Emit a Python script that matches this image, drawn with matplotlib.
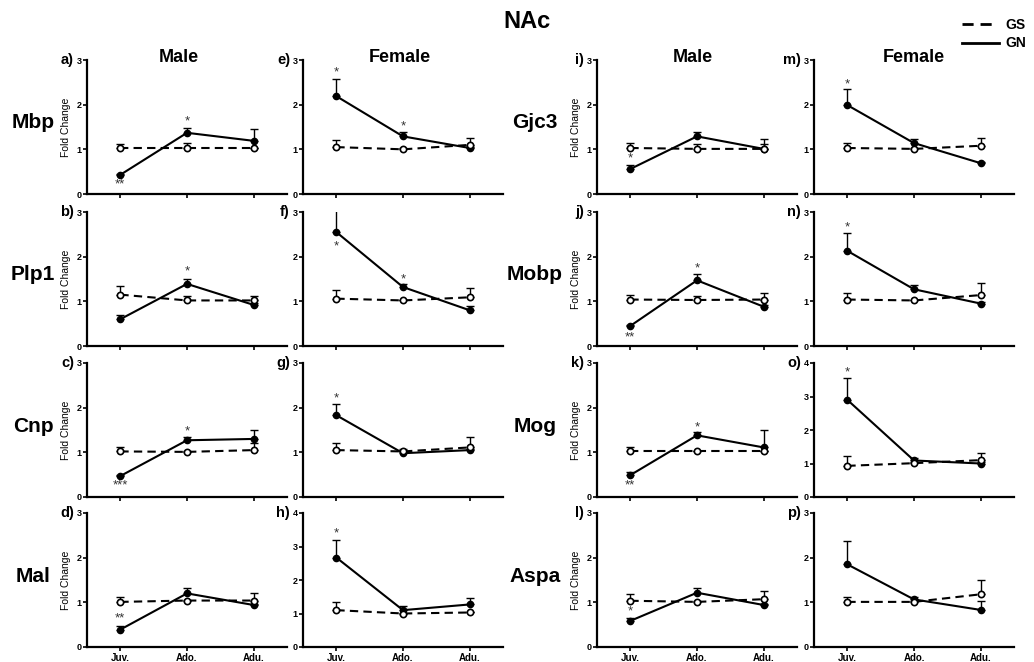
import numpy as np
import matplotlib
matplotlib.use('Agg')
import matplotlib.pyplot as plt
from matplotlib.lines import Line2D

plt.rcParams['font.family'] = ['Liberation Sans', 'DejaVu Sans']

# ages on the x axis
ages = ["Juv.", "Ado.", "Adu."]

# genes: left block (a-h) and right block (i-p)
genes = ["Mbp", "Plp1", "Cnp", "Mal", "Gjc3", "Mobp", "Mog", "Aspa"]
male_letters = ["a)", "b)", "c)", "d)", "i)", "j)", "k)", "l)"]
female_letters = ["e)", "f)", "g)", "h)", "m)", "n)", "o)", "p)"]
female_ymax = [3, 3, 3, 4, 3, 3, 4, 3]

# male panels: GS (dashed, open) and GN (solid, filled), mean and SEM
male_gs = [[1.02, 1.02, 1.02], [1.15, 1.02, 1.02], [1.02, 1.01, 1.05], [1.01, 1.04, 1.04],
           [1.03, 1.01, 1.01], [1.04, 1.03, 1.04], [1.02, 1.02, 1.02], [1.035, 1.01, 1.07]]
male_gs_err = [[0.11, 0.12, 0.02], [0.20, 0.10, 0.10], [0.10, 0.02, 0.15], [0.12, 0.02, 0.16],
               [0.11, 0.11, 0.23], [0.11, 0.10, 0.14], [0.09, 0.02, 0.02], [0.145, 0.02, 0.19]]
male_gn = [[0.43, 1.37, 1.19], [0.60, 1.39, 0.92], [0.47, 1.27, 1.30], [0.39, 1.20, 0.94],
           [0.56, 1.29, 1.01], [0.45, 1.47, 0.88], [0.49, 1.38, 1.11], [0.585, 1.215, 0.94]]
male_gn_err = [[0.02, 0.10, 0.26], [0.09, 0.10, 0.05], [0.02, 0.07, 0.21], [0.075, 0.11, 0.03],
               [0.08, 0.10, 0.10], [0.02, 0.14, 0.03], [0.08, 0.08, 0.39], [0.075, 0.115, 0.03]]

# female panels
female_gs = [[1.05, 1.00, 1.10], [1.06, 1.02, 1.09], [1.05, 1.02, 1.11], [1.10, 1.00, 1.03],
             [1.03, 1.01, 1.08], [1.04, 1.02, 1.14], [0.93, 1.01, 1.10], [1.01, 1.01, 1.18]]
female_gs_err = [[0.17, 0.02, 0.16], [0.19, 0.02, 0.20], [0.15, 0.02, 0.23], [0.23, 0.02, 0.02],
                 [0.11, 0.02, 0.17], [0.15, 0.02, 0.26], [0.28, 0.02, 0.21], [0.12, 0.02, 0.32]]
female_gn = [[2.19, 1.29, 1.03], [2.55, 1.32, 0.80], [1.83, 0.98, 1.05], [2.67, 1.10, 1.27],
             [1.99, 1.14, 0.69], [2.13, 1.27, 0.95], [2.90, 1.09, 1.00], [1.85, 1.065, 0.83]]
female_gn_err = [[0.38, 0.09, 0.03], [0.50, 0.06, 0.09], [0.26, 0.10, 0.03], [0.53, 0.12, 0.18],
                 [0.35, 0.10, 0.03], [0.39, 0.09, 0.03], [0.65, 0.07, 0.03], [0.52, 0.065, 0.20]]

# significance marks: (age index, y, text)
male_stars = [[(0, 0.22, "**"), (1, 1.62, "*")], [(1, 1.66, "*")], [(0, 0.25, "***"), (1, 1.47, "*")],
              [(0, 0.63, "**")], [(0, 0.80, "*")], [(0, 0.20, "**"), (1, 1.73, "*")],
              [(0, 0.25, "**"), (1, 1.55, "*")], [(0, 0.79, "*")]]
female_stars = [[(0, 2.73, "*"), (1, 1.52, "*")], [(0, 2.22, "*"), (1, 1.50, "*")], [(0, 2.21, "*")],
                [(0, 3.38, "*")], [(0, 2.46, "*")], [(0, 2.65, "*")], [(0, 3.72, "*")], []]

fig = plt.figure(figsize=(10.34, 6.62), dpi=100)

lefts = [87, 303, 597, 814]
tops = [60, 212, 363, 513]
W, H = 200, 134
FW, FH = 1034, 662


def draw_panel(ax, gs, gs_err, gn, gn_err, stars, ymax, letter, male, bottom):
    x = np.arange(3)
    zeros = np.zeros(3)
    ax.errorbar(x, gn, yerr=[zeros, gn_err], fmt='none', ecolor='black',
                elinewidth=1.0, capsize=3, capthick=1.0, zorder=2)
    ax.errorbar(x, gs, yerr=[zeros, gs_err], fmt='none', ecolor='black',
                elinewidth=1.0, capsize=3, capthick=1.0, zorder=2)
    ax.plot(x, gn, '-', color='black', lw=1.5, marker='o', ms=4.5,
            mfc='black', mec='black', zorder=3)
    ax.plot(x, gs, '--', color='black', lw=1.5, dashes=(4, 2.5), marker='o', ms=4.5,
            mfc='white', mec='black', mew=1.2, zorder=4)
    for i, yv, s in stars:
        ax.text(i, yv, s, ha='center', va='center', fontsize=9.5, color='#333333')
    ax.set_xlim(-0.5, 2.5)
    ax.set_ylim(0, ymax)
    ax.set_yticks(range(ymax + 1))
    ax.set_xticks(x)
    if bottom:
        ax.set_xticklabels(ages, fontsize=7, fontweight='bold')
    else:
        ax.set_xticklabels([])
    for t in ax.get_yticklabels():
        t.set_fontsize(6.5)
        t.set_fontweight('bold')
    ax.tick_params(direction='out', length=3, width=1.2, pad=1)
    for side in ['top', 'right']:
        ax.spines[side].set_visible(False)
    for side in ['left', 'bottom']:
        ax.spines[side].set_linewidth(1.6)
    if male:
        ax.set_ylabel("Fold Change", fontsize=7.5, labelpad=4)
    ax.text(-0.065, 1.0, letter, transform=ax.transAxes, ha='right', va='center',
            fontsize=10.5, fontweight='bold')


for g in range(8):
    row = g % 4
    block = g // 4
    top = tops[row]
    b = 1 - (top + H) / FH
    axm = fig.add_axes([lefts[2 * block] / FW, b, W / FW, H / FH])
    draw_panel(axm, male_gs[g], male_gs_err[g], male_gn[g], male_gn_err[g],
               male_stars[g], 3, male_letters[g], True, row == 3)
    axf = fig.add_axes([lefts[2 * block + 1] / FW, b, W / FW, H / FH])
    draw_panel(axf, female_gs[g], female_gs_err[g], female_gn[g], female_gn_err[g],
               female_stars[g], female_ymax[g], female_letters[g], False, row == 3)
    gx = 33 if block == 0 else 535
    fig.text(gx / FW, 1 - (top + 63) / FH, genes[g], ha='center', va='center',
             fontsize=15, fontweight='bold')

# column headers and title
for cx, name in [(179, "Male"), (400, "Female"), (693, "Male"), (914, "Female")]:
    fig.text(cx / FW, 1 - 58 / FH, name, ha='center', va='center', fontsize=13, fontweight='bold')
fig.text(527 / FW, 1 - 22 / FH, "NAc", ha='center', va='center', fontsize=17, fontweight='bold')

# legend in the top right corner
fig.add_artist(Line2D([962 / FW, 998 / FW], [1 - 24 / FH] * 2, color='black', lw=2,
                      dashes=(4, 2.5)))
fig.add_artist(Line2D([962 / FW, 999 / FW], [1 - 43 / FH] * 2, color='black', lw=2))
fig.text(1005 / FW, 1 - 25 / FH, "GS", ha='left', va='center', fontsize=10, fontweight='bold')
fig.text(1005 / FW, 1 - 43 / FH, "GN", ha='left', va='center', fontsize=10, fontweight='bold')

fig.savefig('out.png', dpi=100)
